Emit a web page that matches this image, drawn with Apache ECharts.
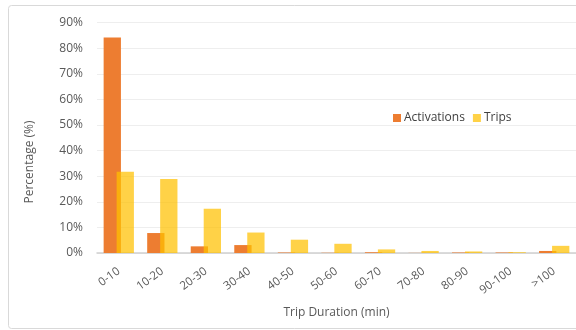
<!DOCTYPE html>
<html>
<head>
<meta charset="utf-8">
<style>
  html, body { margin: 0; padding: 0; background: #ffffff; }
  #chart { width: 576px; height: 330px; }
</style>
<script src="https://cdn.jsdelivr.net/npm/echarts@6/dist/echarts.min.js"></script>
</head>
<body>
<div id="chart"></div>
<script>
// Trip duration bins (minutes)
const categories = ['0-10', '10-20', '20-30', '30-40', '40-50', '50-60', '60-70', '70-80', '80-90', '90-100', '>100'];
// Share of activations per bin (%)
const activations = [84.2, 7.8, 2.6, 3.1, 0.2, 0.1, 0.3, 0.05, 0.2, 0.2, 0.8];
// Share of trips per bin (%)
const trips = [31.8, 28.9, 17.3, 8.0, 5.2, 3.6, 1.4, 0.8, 0.6, 0.3, 2.8];
// Value axis ticks
const yTicks = [0, 10, 20, 30, 40, 50, 60, 70, 80, 90];

const FONT = 'Open Sans';
const chart = echarts.init(document.getElementById('chart'), null, { renderer: 'canvas' });

chart.setOption({
  animation: false,
  backgroundColor: '#ffffff',
  textStyle: { fontFamily: FONT },
  graphic: [
    {
      type: 'rect',
      shape: { x: 8.5, y: 5.5, width: 600, height: 323, r: 3 },
      style: { fill: 'none', stroke: '#d9d9d9', lineWidth: 1 },
      silent: true
    },
    {
      type: 'text',
      x: 30, y: 162,
      rotation: Math.PI / 2,
      style: {
        text: 'Percentage (%)',
        fontFamily: FONT, fontSize: 12, fill: '#595959',
        align: 'center', verticalAlign: 'middle'
      }
    }
  ],
  legend: {
    data: ['Activations', 'Trips'],
    left: 388, top: 107,
    itemWidth: 8, itemHeight: 8, itemGap: 8,
    icon: 'rect',
    textStyle: { fontFamily: FONT, fontSize: 12, color: '#404040', padding: [0, 0, 0, -2] }
  },
  grid: { left: 97, top: 22.7, width: 481, height: 230.3, containLabel: false },
  xAxis: {
    type: 'category',
    data: categories,
    name: 'Trip Duration (min)',
    nameLocation: 'middle',
    nameGap: 54,
    nameTextStyle: { fontFamily: FONT, fontSize: 12, color: '#595959' },
    axisLine: { lineStyle: { color: '#d0d0d0', width: 1.5 } },
    axisTick: { show: false },
    axisLabel: { rotate: 36, margin: 17, fontFamily: FONT, fontSize: 11.5, color: '#595959', interval: 0 }
  },
  yAxis: {
    type: 'value',
    min: 0, max: 90, interval: 10,
    axisLine: { show: false },
    axisTick: { show: false },
    splitLine: { lineStyle: { color: '#eeeeee', width: 1 } },
    axisLabel: {
      margin: 14, fontFamily: FONT, fontSize: 12, color: '#595959',
      formatter: v => (yTicks.includes(v) ? v + '%' : '')
    }
  },
  series: [
    {
      name: 'Activations',
      type: 'bar',
      data: activations,
      barWidth: 17.3,
      barGap: '-25%',
      itemStyle: { color: '#ED7D31' }
    },
    {
      name: 'Trips',
      type: 'bar',
      data: trips,
      barWidth: 17.3,
      barGap: '-25%',
      itemStyle: { color: 'rgba(255,192,0,0.72)' }
    }
  ]
});
</script>
</body>
</html>
